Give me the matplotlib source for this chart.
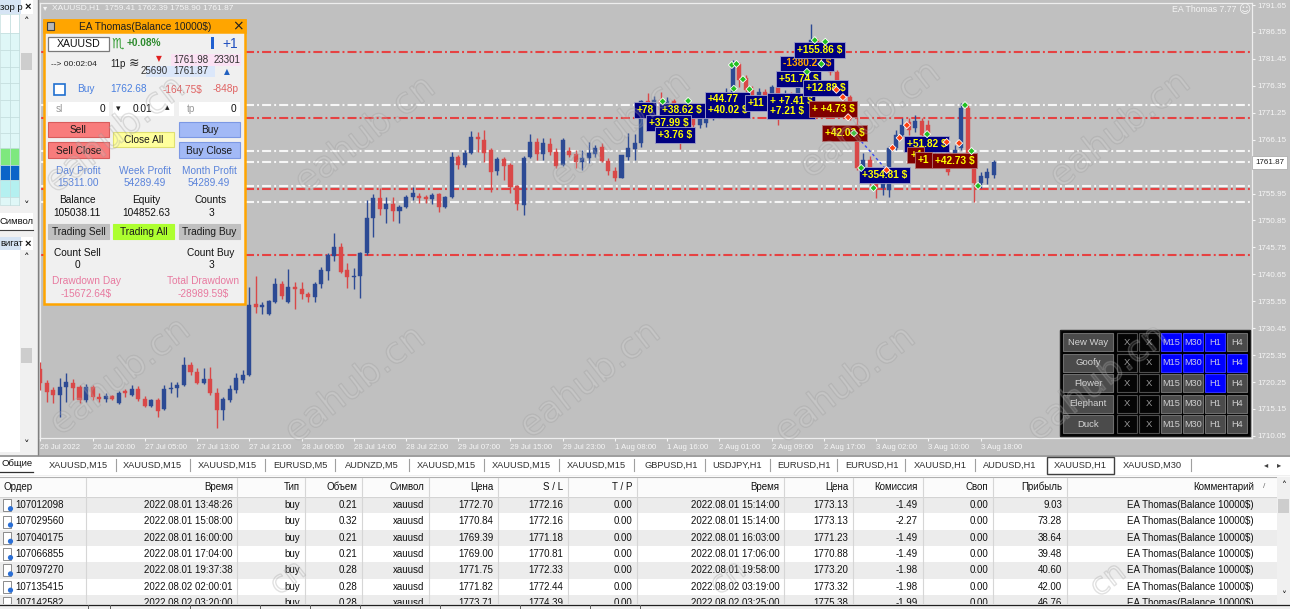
import numpy as np
import matplotlib
matplotlib.use("Agg")
import matplotlib.pyplot as plt
from matplotlib.patches import Rectangle, Circle
import matplotlib.patheffects as pe

plt.rcParams['font.family'] = ['Liberation Sans', 'DejaVu Sans']
plt.rcParams['lines.scale_dashes'] = False
NARROW = ['Liberation Sans Narrow', 'Liberation Sans', 'DejaVu Sans']

W, H = 1290, 609

# ---------------- chart data (XAUUSD H1) ----------------
opens = [1722.7, 1720.1, 1718.7, 1717.8, 1719.3, 1720.1, 1719.3, 1716.9, 1719.3, 1717.4,
         1717.0, 1717.6, 1716.3, 1718.4, 1717.8, 1718.9, 1717.0, 1715.7, 1716.9, 1715.2,
         1718.9, 1719.1, 1719.7, 1723.5, 1722.1, 1720.1, 1720.8, 1718.2, 1715.0, 1716.9,
         1718.7, 1720.6, 1721.6, 1735.0, 1734.5, 1733.1, 1735.4, 1738.8, 1735.4, 1738.2,
         1737.9, 1736.9, 1736.4, 1738.8, 1741.3, 1744.1, 1745.8, 1741.5, 1740.1, 1740.3,
         1744.7, 1751.3, 1755.1, 1753.0, 1754.0, 1752.6, 1753.4, 1755.3, 1755.5, 1755.3,
         1754.9, 1755.9, 1753.4, 1755.3, 1762.9, 1761.4, 1763.6, 1766.7, 1766.1, 1764.2,
         1760.2, 1762.5, 1761.4, 1757.4, 1753.8, 1762.9, 1765.7, 1763.4, 1765.3, 1763.8,
         1761.4, 1764.0, 1763.4, 1761.9, 1762.7, 1763.4, 1764.8, 1762.1, 1760.2, 1758.9,
         1762.9, 1764.4, 1765.5, 1773.5, 1772.2, 1773.7, 1771.8, 1773.5, 1770.3, 1767.6,
         1770.8, 1768.9, 1769.3, 1770.4, 1772.7, 1771.4, 1774.6, 1780.5, 1777.8, 1775.6,
         1774.0, 1775.2, 1774.2, 1776.1, 1772.7, 1774.6, 1773.3, 1775.9, 1779.7, 1785.0,
         1783.1, 1783.5, 1779.0, 1777.1, 1774.2, 1768.9, 1759.5, 1762.3, 1758.9, 1757.0,
         1756.6, 1764.6, 1767.0, 1769.5, 1768.4, 1769.7, 1768.9, 1764.2, 1766.1, 1763.8,
         1763.3, 1764.6, 1772.2, 1761.4, 1758.0, 1758.9, 1759.41]
highs = [1724.1, 1720.6, 1719.3, 1721.0, 1722.0, 1720.8, 1719.7, 1719.9, 1719.7, 1718.2,
         1718.2, 1717.8, 1718.6, 1718.9, 1719.7, 1719.5, 1717.6, 1717.0, 1717.2, 1719.7,
         1720.3, 1720.3, 1725.0, 1724.0, 1722.9, 1722.9, 1723.1, 1719.1, 1717.4, 1719.7,
         1722.0, 1722.5, 1738.2, 1740.3, 1735.4, 1735.8, 1740.0, 1739.4, 1741.7, 1739.2,
         1739.2, 1737.3, 1739.2, 1742.0, 1744.7, 1748.5, 1746.6, 1742.8, 1741.9, 1744.9,
         1754.7, 1755.9, 1757.0, 1755.3, 1755.3, 1753.8, 1755.7, 1757.2, 1756.1, 1755.7,
         1756.1, 1756.1, 1755.5, 1763.8, 1763.3, 1764.2, 1767.8, 1767.6, 1768.0, 1764.6,
         1762.9, 1762.9, 1761.7, 1757.6, 1763.1, 1767.2, 1766.5, 1766.5, 1766.5, 1764.6,
         1766.5, 1764.8, 1764.2, 1764.2, 1765.7, 1765.1, 1765.5, 1762.7, 1761.0, 1763.3,
         1767.4, 1767.2, 1773.7, 1775.0, 1774.4, 1775.2, 1774.2, 1773.9, 1771.0, 1773.5,
         1771.8, 1770.8, 1772.2, 1773.7, 1774.0, 1775.9, 1781.3, 1780.9, 1778.4, 1776.3,
         1775.9, 1775.7, 1776.5, 1776.7, 1775.6, 1775.2, 1776.5, 1780.3, 1788.1, 1785.4,
         1785.0, 1784.1, 1779.4, 1777.5, 1774.6, 1770.4, 1763.6, 1763.1, 1759.6, 1759.3,
         1764.9, 1768.0, 1770.3, 1770.3, 1770.8, 1770.3, 1769.9, 1766.5, 1766.8, 1764.6,
         1765.1, 1773.1, 1772.9, 1762.3, 1760.0, 1760.8, 1762.39]
lows = [1718.7, 1716.5, 1716.3, 1713.6, 1716.5, 1716.9, 1716.3, 1716.5, 1716.9, 1716.5,
        1716.5, 1716.9, 1716.1, 1717.4, 1717.6, 1716.7, 1715.5, 1715.5, 1713.6, 1715.0,
        1718.2, 1717.4, 1719.5, 1721.6, 1719.9, 1719.9, 1717.8, 1711.5, 1713.1, 1716.5,
        1718.2, 1720.1, 1721.4, 1733.3, 1733.1, 1732.9, 1735.2, 1736.0, 1735.2, 1734.1,
        1736.0, 1735.4, 1735.4, 1738.1, 1739.6, 1743.2, 1740.9, 1738.1, 1737.9, 1736.2,
        1744.3, 1747.7, 1751.9, 1750.4, 1750.7, 1750.4, 1753.2, 1754.7, 1754.2, 1754.2,
        1754.0, 1752.4, 1753.2, 1755.1, 1760.6, 1761.0, 1763.4, 1763.8, 1761.9, 1756.2,
        1759.5, 1758.5, 1756.0, 1752.8, 1751.9, 1762.7, 1762.3, 1762.3, 1763.3, 1760.8,
        1761.2, 1762.9, 1760.8, 1760.4, 1761.7, 1762.9, 1761.9, 1759.5, 1758.3, 1758.9,
        1762.3, 1762.3, 1764.8, 1771.8, 1771.4, 1771.2, 1771.0, 1769.5, 1764.4, 1767.0,
        1768.0, 1768.4, 1768.6, 1769.9, 1770.6, 1770.8, 1774.2, 1776.1, 1774.6, 1772.9,
        1773.3, 1772.5, 1773.7, 1768.9, 1771.8, 1772.2, 1772.9, 1775.6, 1779.4, 1782.0,
        1781.3, 1778.4, 1775.9, 1773.7, 1769.9, 1760.4, 1758.1, 1757.6, 1755.1, 1755.7,
        1755.3, 1764.2, 1766.5, 1767.0, 1767.6, 1766.1, 1763.8, 1763.3, 1762.3, 1759.5,
        1762.3, 1764.2, 1761.4, 1754.4, 1757.0, 1757.8, 1758.90]
closes = [1720.1, 1718.4, 1717.8, 1719.3, 1720.3, 1719.1, 1716.9, 1719.3, 1717.4, 1717.0,
          1717.6, 1717.0, 1718.2, 1718.2, 1718.9, 1717.0, 1715.7, 1716.9, 1714.8, 1718.9,
          1719.1, 1719.7, 1723.5, 1722.1, 1720.1, 1720.8, 1718.2, 1715.0, 1717.0, 1718.9,
          1721.0, 1721.6, 1734.8, 1734.5, 1734.6, 1735.6, 1738.8, 1736.5, 1738.2, 1737.9,
          1736.9, 1736.4, 1738.8, 1741.5, 1744.3, 1745.8, 1741.1, 1740.1, 1740.3, 1744.7,
          1751.3, 1755.1, 1753.0, 1754.0, 1752.6, 1753.4, 1755.3, 1756.1, 1755.1, 1754.9,
          1755.7, 1753.4, 1755.3, 1762.9, 1761.4, 1763.6, 1766.7, 1766.3, 1763.6, 1760.0,
          1762.5, 1761.2, 1757.2, 1754.0, 1762.7, 1765.7, 1763.4, 1765.5, 1763.8, 1761.2,
          1766.1, 1763.3, 1761.9, 1762.7, 1763.6, 1764.6, 1762.1, 1760.2, 1758.9, 1763.3,
          1764.6, 1765.5, 1773.5, 1772.2, 1773.7, 1771.8, 1773.5, 1770.3, 1767.6, 1770.8,
          1768.9, 1770.3, 1770.4, 1772.7, 1771.4, 1774.6, 1780.7, 1777.5, 1775.6, 1774.0,
          1775.2, 1773.7, 1776.1, 1772.7, 1774.6, 1773.3, 1775.9, 1779.7, 1785.0, 1783.1,
          1784.7, 1779.0, 1777.1, 1774.2, 1770.4, 1760.8, 1762.3, 1758.9, 1757.0, 1758.1,
          1764.6, 1767.0, 1768.9, 1768.0, 1769.7, 1767.0, 1764.6, 1765.7, 1764.2, 1760.0,
          1764.2, 1772.2, 1762.3, 1758.0, 1759.3, 1760.0, 1761.87]

date_labels = ["26 Jul 2022", "26 Jul 20:00", "27 Jul 05:00", "27 Jul 13:00", "27 Jul 21:00",
               "28 Jul 06:00", "28 Jul 14:00", "28 Jul 22:00", "29 Jul 07:00", "29 Jul 15:00",
               "29 Jul 23:00", "1 Aug 08:00", "1 Aug 16:00", "2 Aug 01:00", "2 Aug 09:00",
               "2 Aug 17:00", "3 Aug 02:00", "3 Aug 10:00", "3 Aug 18:00"]
price_ticks = [1791.65, 1786.55, 1781.45, 1776.35, 1771.25, 1766.15, 1761.05, 1755.95, 1750.85,
               1745.75, 1740.65, 1735.55, 1730.45, 1725.35, 1720.25, 1715.15, 1710.05]
last_price = 1761.87

level_prices = [1782.70, 1772.72, 1770.32, 1763.95, 1761.93, 1757.44, 1756.76, 1754.41, 1744.37]
level_kinds = ['r', 'w', 'r', 'w', 'w', 'w', 'r', 'w', 'r']

# profit tags: text, bar, price, kind (n = navy, m = maroon, o = navy with orange text)
tag_texts = ["+78", "+38.62 $", "+37.99 $", "+3.76 $", "+44.77\n+40.02 $", "+11",
             "+ +7.41 $\n+7.21 $", "+51.74 $", "-1380.27 $", "+155.86 $", "+12.88 $",
             "+ +4.73 $", "+42.03 $", "+354.81 $", "+51.82 $", "+4", "+1", "+42.73 $"]
tag_bars = [91.3, 95.2, 93.2, 94.6, 102.2, 108.3, 111.7, 113.1, 113.7, 115.8, 117.2,
            118.1, 120.1, 125.8, 132.7, 133.2, 134.4, 137.0]
tag_prices = [1771.8, 1771.7, 1769.3, 1767.0, 1772.8, 1773.1, 1772.5, 1777.6, 1780.6, 1783.1,
              1775.9, 1772.0, 1767.4, 1759.4, 1765.3, 1763.3, 1762.3, 1762.2]
tag_kinds = ['n', 'n', 'n', 'n', 'n', 'n', 'n', 'n', 'o', 'n', 'n',
             'm', 'm', 'n', 'n', 'm', 'm', 'm']

mark_bars = [95.3, 99.2, 105.9, 106.2, 106.6, 107.6, 108.6, 117.4, 118.6, 120.2, 119.6,
             121.9, 122.9, 123.7, 124.6, 125.7, 129.6, 127.6, 130.5, 131.6, 132.7, 135.8,
             138.8, 140.7, 141.6, 142.6, 143.6]
mark_prices = [1773.4, 1773.5, 1780.3, 1775.8, 1780.5, 1777.6, 1775.7, 1779.0, 1785.0, 1784.7,
               1780.5, 1775.6, 1774.2, 1770.4, 1767.4, 1760.8, 1760.4, 1757.0, 1764.6, 1766.5,
               1768.9, 1767.2, 1765.7, 1765.5, 1772.7, 1764.0, 1757.4]
mark_kinds = ['g', 'g', 'g', 'g', 'g', 'g', 'g', 'g', 'g', 'g', 'g',
              'r', 'r', 'r', 'g', 'g', 'r', 'g', 'r', 'r', 'r', 'g',
              'r', 'r', 'g', 'g', 'g']

# ---------------- terminal table data ----------------
order_ids = ['107012098', '107029560', '107040175', '107066855', '107097270', '107135415', '107142582']
open_times = ['2022.08.01 13:48:26', '2022.08.01 15:08:00', '2022.08.01 16:00:00', '2022.08.01 17:04:00',
              '2022.08.01 19:37:38', '2022.08.02 02:00:01', '2022.08.02 03:20:00']
order_types = ['buy'] * 7
volumes = [0.21, 0.32, 0.21, 0.21, 0.28, 0.28, 0.28]
symbols = ['xauusd'] * 7
open_prices = [1772.70, 1770.84, 1769.39, 1769.00, 1771.75, 1771.82, 1773.71]
stop_losses = [1772.16, 1772.16, 1771.18, 1770.81, 1772.33, 1772.44, 1774.39]
take_profits = [0.00] * 7
close_times = ['2022.08.01 15:14:00', '2022.08.01 15:14:00', '2022.08.01 16:03:00', '2022.08.01 17:06:00',
               '2022.08.01 19:58:00', '2022.08.02 03:19:00', '2022.08.02 03:25:00']
close_prices = [1773.13, 1773.13, 1771.23, 1770.88, 1773.20, 1773.32, 1775.38]
commissions = [-1.49, -2.27, -1.49, -1.49, -1.98, -1.98, -1.99]
swaps = [0.00] * 7
profits = [9.03, 73.28, 38.64, 39.48, 40.60, 42.00, 46.76]
comments = ['EA Thomas(Balance 10000$)'] * 7
headers = ['Ордер', 'Время', 'Тип', 'Объем', 'Символ', 'Цена', 'S / L', 'T / P',
           'Время', 'Цена', 'Комиссия', 'Своп', 'Прибыль', 'Комментарий']

chart_tabs = ['XAUUSD,M15', 'XAUUSD,M15', 'XAUUSD,M15', 'EURUSD,M5', 'AUDNZD,M5', 'XAUUSD,M15',
              'XAUUSD,M15', 'XAUUSD,M15', 'GBPUSD,H1', 'USDJPY,H1', 'EURUSD,H1', 'EURUSD,H1',
              'XAUUSD,H1', 'AUDUSD,H1', 'XAUUSD,H1', 'XAUUSD,M30']
active_tab = 14

strategies = ['New Way', 'Goofy', 'Flower', 'Elephant', 'Duck']
timeframes = ['M15', 'M30', 'H1', 'H4']
tf_active = [[1, 1, 1, 0], [1, 1, 1, 1], [0, 0, 1, 0], [0, 0, 0, 0], [0, 0, 0, 0]]

BULL, BEAR = '#2c4a94', '#d94848'
GREY = '#c0c0c0'


def rect(a, x0, y0, x1, y1, fc, ec='none', lw=0.8, z=1):
    a.add_patch(Rectangle((x0, y0), x1 - x0, y1 - y0, facecolor=fc, edgecolor=ec, linewidth=lw, zorder=z))


def txt(a, x, y, s, size=7.3, color='#111111', ha='left', va='center', z=3, **kw):
    return a.text(x, y, s, fontsize=size, color=color, ha=ha, va=va, zorder=z, **kw)


fig = plt.figure(figsize=(W / 100, H / 100), dpi=100)

# ---------------- background layer ----------------
bg = fig.add_axes([0, 0, 1, 1], zorder=0)
bg.set_xlim(0, W)
bg.set_ylim(H, 0)
bg.axis('off')
rect(bg, 0, 0, W, H, '#f0f0f0', z=0)
rect(bg, 38, 0, W, 455, GREY)
bg.plot([37.5, 37.5], [0, 455], color='#808080', lw=1, zorder=2)

# left navigator strip
rect(bg, 0, 0, 21, 14, '#d6e4f4')
rect(bg, 21, 0, 33, 14, '#ffffff')
txt(bg, 0, 7, 'зор р', size=6.8)
txt(bg, 27.5, 7, '×', size=8, ha='center', weight='bold')
rect(bg, 0, 14, 20, 205, '#ffffff')
cell_rows = [14, 33, 50, 67, 83, 100, 117, 133, 148, 165, 180, 197, 205]
cell_cols = ['#ffffff', '#dff7f7', '#dff7f7', '#dff7f7', '#dff7f7', '#dff7f7', '#dff7f7',
             '#dff7f7', '#7ee87e', '#0a64c8', '#b4f0f0', '#dff7f7']
for k in range(len(cell_cols)):
    rect(bg, 0, cell_rows[k], 20, cell_rows[k + 1], cell_cols[k], ec='#c4dede', lw=0.5)
for cx in [10, 19]:
    bg.plot([cx, cx], [14, 205], color='#c4dede', lw=0.6, zorder=2)
rect(bg, 20, 14, 33, 212, '#f0f0f0')
txt(bg, 26.5, 22, '˄', size=8, ha='center', family=['DejaVu Sans'])
rect(bg, 21, 53, 32, 70, '#cdcdcd')
txt(bg, 26.5, 206, '˅', size=8, ha='center', family=['DejaVu Sans'])
rect(bg, 0, 213, 33, 230, '#ffffff')
txt(bg, 0, 221, 'Символ', size=6.8)
bg.plot([0, 33], [229.5, 229.5], color='#404040', lw=0.8, zorder=2)
rect(bg, 0, 237, 21, 250, '#d6e4f4')
rect(bg, 21, 237, 33, 250, '#ffffff')
txt(bg, 0, 243.5, 'вигат', size=6.8)
txt(bg, 27.5, 243.5, '×', size=8, ha='center', weight='bold')
rect(bg, 0, 250, 20, 452, '#ffffff')
rect(bg, 20, 250, 33, 452, '#f0f0f0')
txt(bg, 26.5, 258, '˄', size=8, ha='center', family=['DejaVu Sans'])
rect(bg, 21, 348, 32, 363, '#cdcdcd')
txt(bg, 26.5, 445, '˅', size=8, ha='center', family=['DejaVu Sans'])

# chart tabs bar
rect(bg, 0, 455, W, 475, '#ffffff')
bg.plot([0, W], [455.5, 455.5], color='#8c8c8c', lw=1.2, zorder=2)
rect(bg, 0, 456, 34, 472, '#ffffff')
txt(bg, 1, 463, 'Общие', size=6.8)
bg.plot([0, 33], [471.5, 471.5], color='#303030', lw=0.9, zorder=2)
tab_lefts = [44, 118, 193, 268, 338, 412, 487, 562, 640, 708, 773, 841, 909, 979, 1047, 1117]
tab_rights = [113, 187, 262, 332, 406, 481, 556, 631, 702, 767, 834, 902, 972, 1041, 1114, 1188]
for k, name in enumerate(chart_tabs):
    xl, xr = tab_lefts[k], tab_rights[k]
    if k == active_tab:
        rect(bg, xl, 457, xr, 474, '#ffffff', ec='#404040', lw=1.0, z=2)
    txt(bg, (xl + xr) / 2, 465, name, size=6.7, color='#303030', ha='center')
    if k != active_tab and k + 1 != active_tab:
        bg.plot([xr + 2.5, xr + 2.5], [459, 471], color='#a0a0a0', lw=0.8, zorder=2)
txt(bg, 1266, 465, '◂', size=6, color='#404040', ha='center', family=['DejaVu Sans'])
txt(bg, 1279, 465, '▸', size=6, color='#404040', ha='center', family=['DejaVu Sans'])

# trade table
rect(bg, 0, 476, W, 609, '#ffffff')
bg.plot([0, W], [476.5, 476.5], color='#b0b0b0', lw=0.8, zorder=2)
rect(bg, 0, 477, 1277, 496, '#fbfbfb')
bg.plot([0, 1277], [496.5, 496.5], color='#d4d4d4', lw=0.8, zorder=2)
row_h = 16.3
for i in range(len(order_ids)):
    y0 = 497 + row_h * i
    rect(bg, 0, y0, 1277, y0 + row_h, '#ececec' if i % 2 == 0 else '#ffffff')
col_seps = [86, 237, 305, 362, 429, 498, 568, 637, 784, 853, 923, 993, 1067]
for cx in col_seps:
    bg.plot([cx, cx], [478, 604], color='#d6d6d6', lw=0.8, zorder=2)
col_right = [None, 233, 300, 357.5, 424, 493.5, 563, 632, 779.5, 848, 918, 988, 1062, 1254]
txt(bg, 3, 487, headers[0], size=7, family=NARROW)
for k in range(1, len(headers)):
    txt(bg, col_right[k], 487, headers[k], size=7, ha='right', family=NARROW)
txt(bg, 1264, 487, '/', size=6, color='#707070', ha='center')
for i in range(len(order_ids)):
    yc = 505.2 + row_h * i
    rect(bg, 3, yc - 6, 11, yc + 6, '#ffffff', ec='#7a7a7a', lw=0.6, z=3)
    bg.add_patch(Circle((10.5, yc + 3.5), 2.6, facecolor='#2a6fd6', edgecolor='none', zorder=4))
    cells = [open_times[i], order_types[i], f'{volumes[i]:.2f}', symbols[i],
             f'{open_prices[i]:.2f}', f'{stop_losses[i]:.2f}', f'{take_profits[i]:.2f}',
             close_times[i], f'{close_prices[i]:.2f}', f'{commissions[i]:.2f}',
             f'{swaps[i]:.2f}', f'{profits[i]:.2f}', comments[i]]
    txt(bg, 15, yc, order_ids[i], size=7, family=NARROW)
    for k, s in enumerate(cells):
        txt(bg, col_right[k + 1], yc, s, size=7, ha='right', family=NARROW)
rect(bg, 1277, 477, W, 604, '#f0f0f0', z=5)
txt(bg, 1283.5, 486, '˄', size=7, ha='center', family=['DejaVu Sans'], z=6)
rect(bg, 1278, 499, 1289, 513, '#cdcdcd', z=6)
txt(bg, 1283.5, 596, '˅', size=7, ha='center', family=['DejaVu Sans'], z=6)
rect(bg, 0, 604, W, H, '#f0f0f0', z=7)
bg.plot([0, W], [604.5, 604.5], color='#202020', lw=0.9, zorder=8)
for bx in [88, 110, 190, 260, 310, 360, 440, 520, 590, 640]:
    bg.plot([bx, bx], [605, H], color='#606060', lw=0.7, zorder=8)

# ---------------- candlestick chart ----------------
ax = fig.add_axes([40 / W, 1 - 438 / H, 1212 / W, 435 / H], zorder=1)
ax.set_facecolor(GREY)
o, hh, ll, c = (np.array(v) for v in (opens, highs, lows, closes))
xs = np.arange(len(o))
cols = np.where(c >= o, BULL, BEAR)
lo_w = np.minimum(ll, np.minimum(o, c))
hi_w = np.maximum(hh, np.maximum(o, c))
ax.vlines(xs, lo_w, hi_w, colors=cols, lw=1.0, zorder=3)
body = np.maximum(np.abs(c - o), 0.3)
ax.bar(xs, body, bottom=np.minimum(o, c), width=0.62, color=cols, edgecolor=cols, lw=0.3, zorder=4)

for p, kind in zip(level_prices, level_kinds):
    ax.axhline(p, color='#e64242' if kind == 'r' else '#f6f6f6', lw=1.5,
               dashes=(6.5, 2.2, 1.4, 2.2), zorder=2)

ax.plot([124.6, 129.6], [1767.4, 1760.4], color='#3a4cf0', lw=1.0, ls=(0, (2, 2)), zorder=5)
for s, b, p, k in zip(tag_texts, tag_bars, tag_prices, tag_kinds):
    fc = '#800000' if k == 'm' else '#000080'
    tc = '#ffa500' if k == 'o' else '#ffff00'
    ax.text(b, p, s, color=tc, fontsize=7.3, fontweight='bold', ha='left', va='center',
            linespacing=1.05, zorder=6,
            bbox=dict(boxstyle='square,pad=0.28', fc=fc, ec='#a0a0c8' if k != 'm' else '#b07070', lw=0.6))
ax.scatter(mark_bars, mark_prices, marker='D', s=13,
           c=['#22c022' if k == 'g' else '#ff4010' for k in mark_kinds],
           edgecolors='white', linewidths=0.6, zorder=7)

ax.set_xlim(-0.05, 185.55)
ax.set_ylim(1709.65, 1792.04)
ax.yaxis.tick_right()
ax.set_yticks(price_ticks)
ax.set_yticklabels([f'{v:.2f}' for v in price_ticks])
ax.set_xticks(range(0, 8 * len(date_labels), 8))
ax.set_xticklabels(date_labels, ha='left')
ax.tick_params(axis='y', colors='#f6f6f6', labelsize=5.8, length=2.5, width=0.8, pad=1.5)
ax.tick_params(axis='x', colors='#f6f6f6', labelsize=5.6, length=2.5, width=0.8, pad=1.8)
for sp in ax.spines.values():
    sp.set_color('#eeeeee')
    sp.set_linewidth(0.9)
ax.annotate(f'{last_price:.2f}', xy=(1, last_price), xycoords=('axes fraction', 'data'),
            xytext=(2.2, 0), textcoords='offset points', ha='left', va='center', fontsize=5.8,
            color='#202020', annotation_clip=False, zorder=8,
            bbox=dict(boxstyle='square,pad=0.35', fc='white', ec='#b0b0b0', lw=0.6))

# ---------------- overlay layer (EA panel, buttons, captions) ----------------
ui = fig.add_axes([0, 0, 1, 1], zorder=3)
ui.set_xlim(0, W)
ui.set_ylim(H, 0)
ui.axis('off')
ui.patch.set_alpha(0)

txt(ui, 43, 7.5, '▾', size=6, color='#f4f4f4', family=['DejaVu Sans'])
txt(ui, 52, 7.5, 'XAUUSD,H1  1759.41 1762.39 1758.90 1761.87', size=6, color='#f4f4f4')
txt(ui, 1236, 10, 'EA Thomas 7.77', size=6.3, color='#f4f4f4', ha='right')
txt(ui, 1244, 10, '☺', size=8.5, color='#f4f4f4', ha='center', family=['DejaVu Sans'])

# EA panel
rect(ui, 44, 20, 245, 304, '#f0f0f0', ec='#ffa500', lw=1.8)
rect(ui, 44, 20, 245, 32, '#ffa500', ec='#ffa500', lw=1.8)
rect(ui, 47, 22, 54, 30, '#b8b8b8', ec='#404040', lw=0.8, z=2)
txt(ui, 145, 26.5, 'EA Thomas(Balance 10000$)', size=7.3, color='#202020', ha='center')
txt(ui, 238, 26, '×', size=10, color='#202020', ha='center', family=['DejaVu Sans'])
rect(ui, 48, 37, 109, 51, '#ffffff', ec='#7a7a7a', lw=0.9, z=2)
txt(ui, 78.5, 44, 'XAUUSD', size=7.6, ha='center')
txt(ui, 118, 43, '♏', size=10, color='#2f9a2f', ha='center', family=['DejaVu Sans'])
txt(ui, 127, 43.5, '+0.08%', size=7.3, color='#2e8b2e', weight='bold')
rect(ui, 211, 37, 214, 49, '#2060d0', z=2)
txt(ui, 222, 43.5, '+1', size=10, color='#2050c0')
txt(ui, 51, 65, '--> 00:02:04', size=6.0, color='#202020')
txt(ui, 110, 64, '11p', size=7, color='#202020')
txt(ui, 134, 63, '≋', size=9, color='#303030', ha='center', family=['DejaVu Sans'])
txt(ui, 159, 58.5, '▼', size=5.5, color='#e02020', ha='center', family=['DejaVu Sans'])
rect(ui, 171, 54, 241, 66, '#fbe2f4', z=2)
txt(ui, 208, 60, '1761.98', size=7, color='#303030', ha='right')
txt(ui, 240, 60, '23301', size=7, color='#303030', ha='right')
rect(ui, 146, 66, 215, 77, '#dbe7fa', z=2)
txt(ui, 168, 71.5, '25690', size=7, color='#303030', ha='right')
txt(ui, 208, 71.5, '1761.87', size=7, color='#303030', ha='right')
txt(ui, 227, 71.5, '▲', size=5.5, color='#2060c0', ha='center', family=['DejaVu Sans'])
rect(ui, 54, 84, 65, 94.5, '#ffffff', ec='#2070d0', lw=1.2, z=2)
txt(ui, 77, 89.5, 'Buy', size=7.3, color='#4a80e0')
txt(ui, 110, 89.5, '1762.68', size=7.3, color='#4a80e0')
txt(ui, 163, 89.5, '-164.75$', size=7.3, color='#e06464')
txt(ui, 213, 89.5, '-848p', size=7.3, color='#e06464')
for x0, x1 in [(48, 109), (113, 174), (179, 240)]:
    rect(ui, x0, 102, x1, 116, '#ffffff', z=2)
txt(ui, 56, 109, 'sl', size=7.3, color='#9a9a9a')
txt(ui, 105, 109, '0', size=7.3, ha='right')
txt(ui, 118, 109, '▾', size=6.5, color='#202020', ha='center', family=['DejaVu Sans'])
txt(ui, 142.5, 109, '0.01', size=7.3, ha='center')
txt(ui, 167, 108, '▴', size=6.5, color='#202020', ha='center', family=['DejaVu Sans'])
txt(ui, 187, 109, 'tp', size=7.3, color='#9a9a9a')
txt(ui, 236, 109, '0', size=7.3, ha='right')
buttons = [(48, 122, 109, 137, '#f87c7c', '#d85c5c', 'Sell'),
           (48, 142, 109, 158, '#f87c7c', '#d85c5c', 'Sell Close'),
           (113, 132, 174, 147, '#ffff9c', '#e0e070', 'Close All'),
           (179, 122, 240, 137, '#a2b9f6', '#7c98e4', 'Buy'),
           (179, 142, 240, 158, '#a2b9f6', '#7c98e4', 'Buy Close'),
           (48, 224, 109, 239, '#c0c0c0', '#c0c0c0', 'Trading Sell'),
           (113, 224, 174, 239, '#adff2f', '#adff2f', 'Trading All'),
           (179, 224, 240, 239, '#c0c0c0', '#c0c0c0', 'Trading Buy')]
for x0, y0, x1, y1, fc, ec, label in buttons:
    rect(ui, x0, y0, x1, y1, fc, ec=ec, lw=0.8, z=2)
    txt(ui, (x0 + x1) / 2, (y0 + y1) / 2 + 0.5, label, size=7.3, color='#1a1a1a', ha='center')
stats = [(78, 'Day Profit', '15311.00', '#5b84db'), (145, 'Week Profit', '54289.49', '#5b84db'),
         (209, 'Month Profit', '54289.49', '#5b84db')]
for cx, a, b, col in stats:
    txt(ui, cx, 171, a, size=7.3, color=col, ha='center')
    txt(ui, cx, 183.5, b, size=7.3, color=col, ha='center')
for cx, a, b in [(77, 'Balance', '105038.11'), (146, 'Equity', '104852.63'), (211, 'Counts', '3')]:
    txt(ui, cx, 200, a, size=7.3, ha='center')
    txt(ui, cx, 212.5, b, size=7.3, ha='center')
for cx, a, b in [(77, 'Count Sell', '0'), (211, 'Count Buy', '3')]:
    txt(ui, cx, 253, a, size=7.3, ha='center')
    txt(ui, cx, 265.5, b, size=7.3, ha='center')
for cx, a, b in [(86, 'Drawdown Day', '-15672.64$'), (203, 'Total Drawdown', '-28989.59$')]:
    txt(ui, cx, 281, a, size=7.3, color='#e87aa0', ha='center')
    txt(ui, cx, 293.5, b, size=7.3, color='#e87aa0', ha='center')

# strategy / timeframe switch panel
rect(ui, 1060, 330, 1250, 436, '#000000', ec='#202020', lw=1, z=2)
for r, name in enumerate(strategies):
    y0 = 333 + 20.5 * r
    rect(ui, 1063, y0, 1113, y0 + 18, '#4b4b4b', ec='#6e6e6e', lw=0.8, z=3)
    txt(ui, 1088, y0 + 9.3, name, size=6.8, color='#d4d4d4', ha='center', z=4)
    for xb in [1117, 1139]:
        rect(ui, xb, y0, xb + 20, y0 + 18, '#050505', ec='#4e4e4e', lw=0.8, z=3)
        txt(ui, xb + 10, y0 + 9.3, 'X', size=6.8, color='#9a9a9a', ha='center', z=4)
    for j, tf in enumerate(timeframes):
        xb = 1161 + 22 * j
        on = tf_active[r][j]
        rect(ui, xb, y0, xb + 20, y0 + 18, '#0000ff' if on else '#4b4b4b',
             ec='#3030ff' if on else '#6e6e6e', lw=0.8, z=3)
        txt(ui, xb + 10, y0 + 9.3, tf, size=6.6, color='#c8c8e8' if on else '#cfcfcf', ha='center', z=4)

# site watermarks (full ones, and the fragments showing over the table)
wm_spots = [(115, 135), (365, 135), (620, 130), (870, 120), (1120, 130),
            (120, 377), (355, 385), (590, 380), (845, 385), (1097, 383)]
wm_stroke = [pe.Stroke(linewidth=1.0, foreground=(0.6, 0.6, 0.6, 0.3)), pe.Normal()]
for wx, wy in wm_spots:
    t = ui.text(wx, wy, 'eahub.cn', fontsize=26, family=['DejaVu Sans'], rotation=38,
                ha='center', va='center', color=(1, 1, 1, 0.06), zorder=20)
    t.set_path_effects(wm_stroke)
for wx, wy in [(288, 578), (728, 578), (1108, 580)]:
    t = ui.text(wx, wy, 'cn', fontsize=22, family=['DejaVu Sans'], rotation=38,
                ha='center', va='center', color=(1, 1, 1, 0.06), zorder=20)
    t.set_path_effects(wm_stroke)

fig.savefig('out.png', dpi=100)
